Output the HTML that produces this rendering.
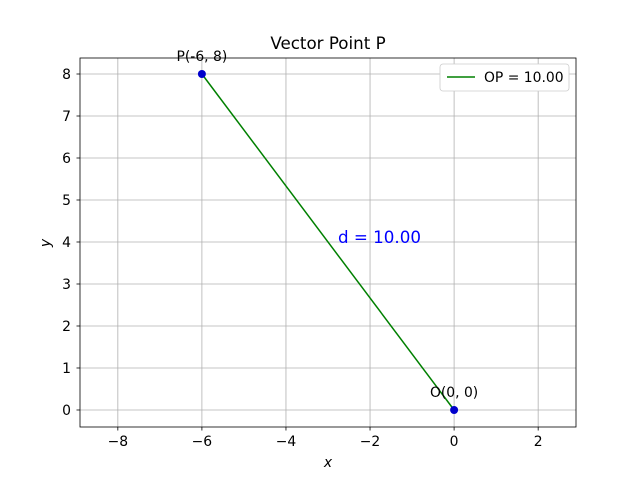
<!DOCTYPE html>
<html><head><meta charset="utf-8"><style>
body{margin:0;background:#fff;font-family:"Liberation Sans","DejaVu Sans",sans-serif;}
svg text{font-family:"DejaVu Sans","Liberation Sans",sans-serif;}
</style></head><body>
<svg id="chart" width="640" height="480" xmlns="http://www.w3.org/2000/svg">
<rect width="640" height="480" fill="#fff"/>
<g id="grid"></g><g id="axes"></g><g id="marks"></g>
</svg>
<script>
const xTicks=[-8,-6,-4,-2,0,2];
const yTicks=[0,1,2,3,4,5,6,7,8];
const pointsX=[0,-6];
const pointsY=[0,8];
const pointLabels=["O(0, 0)","P(-6, 8)"];
const distanceLabel="d = 10.00";
const legendLabel="OP = 10.00";
const L=80,R=576,T=58,B=427,xMin=-8.9,xMax=2.9,yMin=-0.405,yMax=8.381;
const sx=v=>L+(v-xMin)/(xMax-xMin)*(R-L);
const sy=v=>B-(v-yMin)/(yMax-yMin)*(B-T);
const NS="http://www.w3.org/2000/svg";
function mk(tag,attrs,parent,txt){const e=document.createElementNS(NS,tag);for(const k in attrs)e.setAttribute(k,attrs[k]);if(txt!==undefined)e.textContent=txt;document.getElementById(parent).appendChild(e);return e;}
xTicks.forEach(t=>{const x=sx(t);
let g=mk('line',{x1:x,x2:x,y1:T,y2:B,stroke:'#b0b0b0','stroke-width':0.8},'grid');


mk('line',{x1:x,x2:x,y1:B,y2:B+3.5,stroke:'#000','stroke-width':0.8},'axes');
let l=mk('text',{x:x,y:B+19,'font-size':13.9,'text-anchor':'middle'},'axes',(t<0?'\u2212'+(-t):t));

});
yTicks.forEach(t=>{const y=sy(t);
let g=mk('line',{x1:L,x2:R,y1:y,y2:y,stroke:'#b0b0b0','stroke-width':0.8},'grid');


mk('line',{x1:L-3.5,x2:L,y1:y,y2:y,stroke:'#000','stroke-width':0.8},'axes');
let l=mk('text',{x:L-9,y:y+5,'font-size':13.9,'text-anchor':'end'},'axes',t);

});
let fr=mk('rect',{x:L,y:T,width:R-L,height:B-T,fill:'none',stroke:'#000','stroke-width':0.8},'axes');


let ln=mk('line',{x1:sx(pointsX[0]),y1:sy(pointsY[0]),x2:sx(pointsX[1]),y2:sy(pointsY[1]),stroke:'green','stroke-width':1.5},'marks');


pointsX.forEach((px,i)=>{
let c=mk('circle',{cx:sx(px),cy:sy(pointsY[i]),r:4,fill:'#0000cc'},'marks');


let t=mk('text',{x:sx(px),y:sy(pointsY[i])-13,'font-size':13.9,'text-anchor':'middle'},'marks',pointLabels[i]);

});
let d=mk('text',{x:sx((pointsX[0]+pointsX[1])/2)+10,y:sy((pointsY[0]+pointsY[1])/2)+1,'font-size':16.7,fill:'blue'},'marks',distanceLabel);


let ti=mk('text',{x:(L+R)/2,y:T-9,'font-size':16.7,'text-anchor':'middle'},'axes','Vector Point P');


let xl=mk('text',{x:(L+R)/2,y:467,'font-size':13.9,'text-anchor':'middle','font-style':'italic'},'axes','x');


let yl=mk('text',{x:50,y:243,'font-size':13.9,'text-anchor':'middle','font-style':'italic',transform:'rotate(-90 50 243)'},'axes','y');


let lg=mk('rect',{x:440,y:64,width:129,height:27,rx:3,fill:'#fff',stroke:'#ccc','stroke-width':0.8},'axes');


mk('line',{x1:447,x2:475,y1:77,y2:77,stroke:'green','stroke-width':1.5},'axes');
let lt=mk('text',{x:484,y:82,'font-size':13.9},'axes',legendLabel);


</script>
</body></html>
